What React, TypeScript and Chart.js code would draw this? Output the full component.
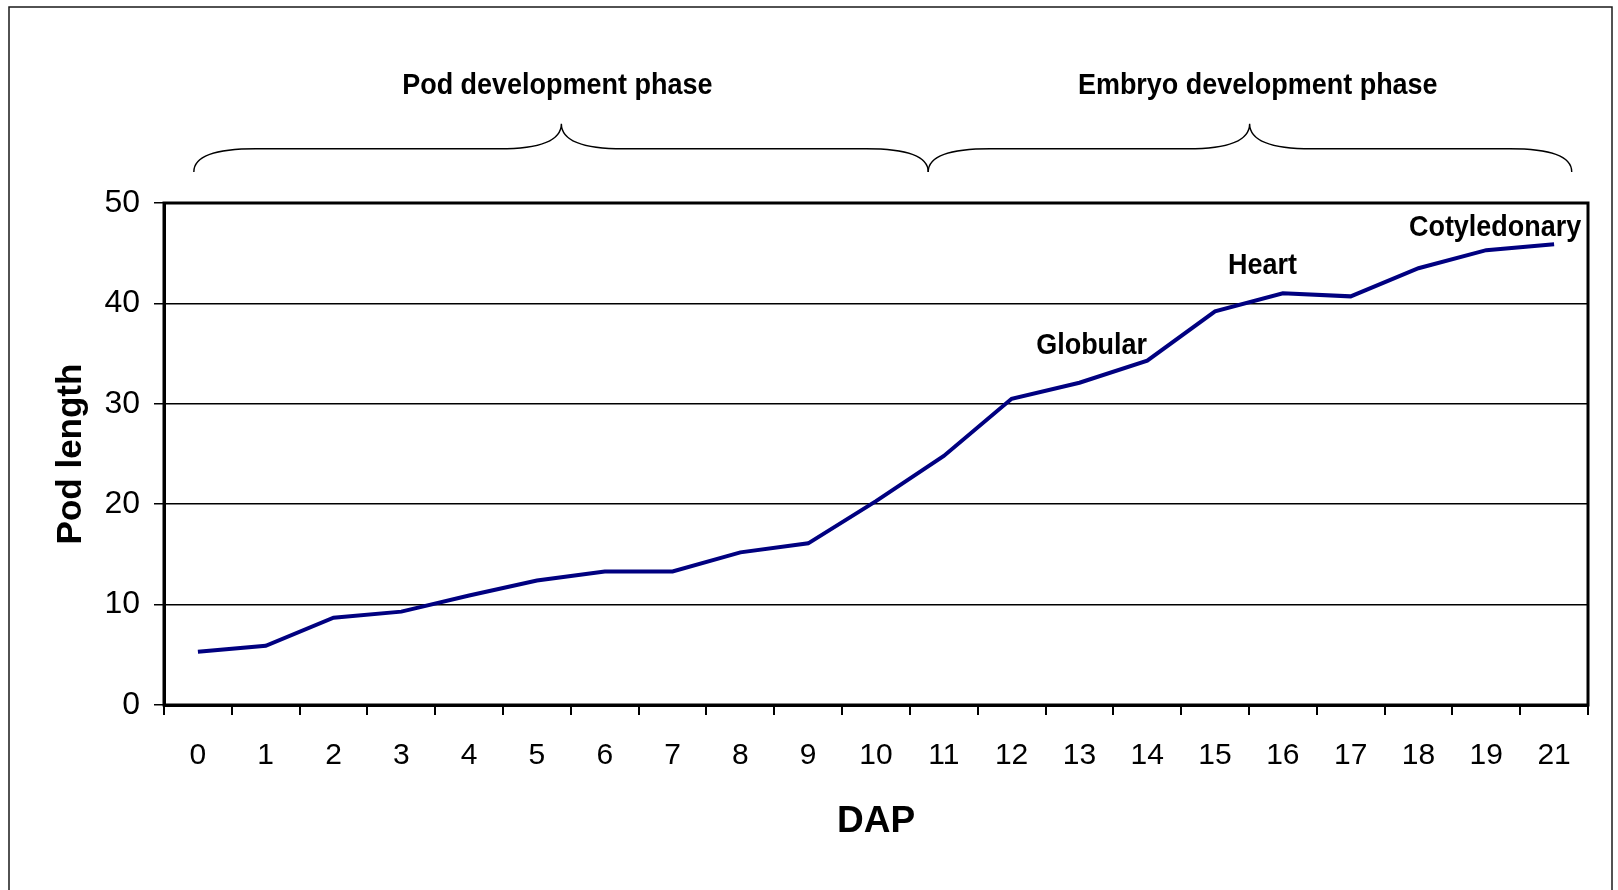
import React, { useEffect, useRef } from "react";
import { Chart, registerables } from "chart.js";

Chart.register(...registerables);

// ---- data ----
const dapLabels = ["0","1","2","3","4","5","6","7","8","9","10","11","12","13","14","15","16","17","18","19","21"];
const podLength = [5.3, 5.9, 8.7, 9.3, 10.9, 12.4, 13.3, 13.3, 15.2, 16.1, 20.3, 24.8, 30.5, 32.1, 34.3, 39.2, 41.0, 40.7, 43.5, 45.3, 45.9];
const yTicks = [0, 10, 20, 30, 40, 50];

// stage annotations (x in category index units, y in data units)
const stageNames = ["Globular", "Heart", "Cotyledonary"];
const stageX = [13.18, 15.7, 19.13];
const stageY = [35.8, 43.75, 47.5];

// phase annotations: label, brace start, brace end, brace peak (category index units)
const phaseNames = ["Pod development phase", "Embryo development phase"];
const phaseLabelX = [5.3, 15.63];
const phaseFrom = [-0.06, 10.77];
const phaseTo = [10.77, 20.26];
const phasePeak = [5.36, 15.51];

const FONT = "'Liberation Sans', Arial, Helvetica, sans-serif";

function condensedText(ctx: any, text: string, x: number, y: number, sx: number) {
  ctx.save();
  ctx.translate(x, y);
  ctx.scale(sx, 1);
  ctx.fillText(text, 0, 0);
  ctx.restore();
}

const annotationPlugin = {
  id: "annotations",
  beforeDraw(chart: any) {
    const ctx = chart.ctx;
    ctx.save();
    ctx.strokeStyle = "#1a1a1a";
    ctx.lineWidth = 1.5;
    ctx.strokeRect(9, 7, 1603, 900);
    ctx.restore();
  },
  afterDraw(chart: any) {
    const ctx = chart.ctx;
    const xs = chart.scales.x;
    const ys = chart.scales.y;
    const ca = chart.chartArea;
    ctx.save();
    // plot border
    ctx.strokeStyle = "#000";
    ctx.lineWidth = 3;
    ctx.strokeRect(ca.left, ca.top, ca.right - ca.left, ca.bottom - ca.top);

    // stage labels
    ctx.fillStyle = "#000";
    ctx.font = "bold 29px " + FONT;
    ctx.textAlign = "center";
    ctx.textBaseline = "middle";
    stageNames.forEach((s, i) => {
      condensedText(ctx, s, xs.getPixelForValue(stageX[i]), ys.getPixelForValue(stageY[i]), 0.93);
    });

    // phase labels
    const labelY = ys.getPixelForValue(61.7);
    phaseNames.forEach((s, i) => {
      condensedText(ctx, s, xs.getPixelForValue(phaseLabelX[i]), labelY, 0.93);
    });

    // braces
    const yb = ys.getPixelForValue(53.1);
    const yf = ys.getPixelForValue(55.4);
    const yp = ys.getPixelForValue(57.9);
    const r = 62;
    ctx.strokeStyle = "#000";
    ctx.lineWidth = 1.4;
    for (let i = 0; i < phaseNames.length; i++) {
      const x0 = xs.getPixelForValue(phaseFrom[i]);
      const x1 = xs.getPixelForValue(phaseTo[i]);
      const xc = xs.getPixelForValue(phasePeak[i]);
      ctx.beginPath();
      ctx.moveTo(x0, yb);
      ctx.quadraticCurveTo(x0, yf, x0 + r, yf);
      ctx.lineTo(xc - r, yf);
      ctx.quadraticCurveTo(xc, yf, xc, yp);
      ctx.quadraticCurveTo(xc, yf, xc + r, yf);
      ctx.lineTo(x1 - r, yf);
      ctx.quadraticCurveTo(x1, yf, x1, yb);
      ctx.stroke();
    }
    ctx.restore();
  },
};

export default function App() {
  const ref = useRef<HTMLCanvasElement | null>(null);
  useEffect(() => {
    if (!ref.current) return;
    const chart = new Chart(ref.current, {
      type: "line",
      data: {
        labels: dapLabels,
        datasets: [
          {
            label: "Pod length",
            data: podLength,
            borderColor: "#000080",
            backgroundColor: "#000080",
            borderWidth: 4,
            pointRadius: 0,
            tension: 0,
          },
        ],
      },
      options: {
        animation: false,
        responsive: false,
        devicePixelRatio: 1,
        layout: { padding: { left: 0, top: 203, right: 30, bottom: 0 } },
        plugins: { legend: { display: false }, tooltip: { enabled: false } },
        scales: {
          x: {
            type: "category",
            offset: true,
            grid: {
              offset: true,
              drawOnChartArea: false,
              drawTicks: true,
              tickLength: 10,
              color: "#000",
              lineWidth: 2,
            },
            border: { display: true, color: "#000", width: 3 },
            ticks: {
              color: "#000",
              font: { family: FONT, size: 30 },
              padding: 23,
              maxRotation: 0,
              autoSkip: false,
            },
            title: {
              display: true,
              text: "DAP",
              color: "#000",
              font: { family: FONT, size: 37, weight: "bold" },
              padding: { top: 0, bottom: 46 },
            },
            afterFit: (s: any) => {
              s.height = 185;
            },
          },
          y: {
            min: 0,
            max: 50,
            afterBuildTicks: (s: any) => {
              s.ticks = yTicks.map((v) => ({ value: v }));
            },
            grid: {
              color: "#000",
              lineWidth: 1.5,
              tickLength: 10,
              drawTicks: true,
            },
            border: { display: true, color: "#000", width: 3 },
            ticks: {
              color: "#000",
              font: { family: FONT, size: 32 },
              padding: 14,
            },
            title: {
              display: true,
              text: "Pod length",
              color: "#000",
              font: { family: FONT, size: 35, weight: "bold" },
              padding: { top: 50, bottom: 0 },
            },
            afterFit: (s: any) => {
              s.width = 164;
            },
          },
        },
      },
      plugins: [annotationPlugin],
    });
    return () => chart.destroy();
  }, []);
  return (
    <div style={{ position: "fixed", left: 0, top: 0, width: 1618, height: 890, background: "#fff" }}>
      <canvas ref={ref} width={1618} height={890} style={{ width: 1618, height: 890, display: "block" }} />
    </div>
  );
}
